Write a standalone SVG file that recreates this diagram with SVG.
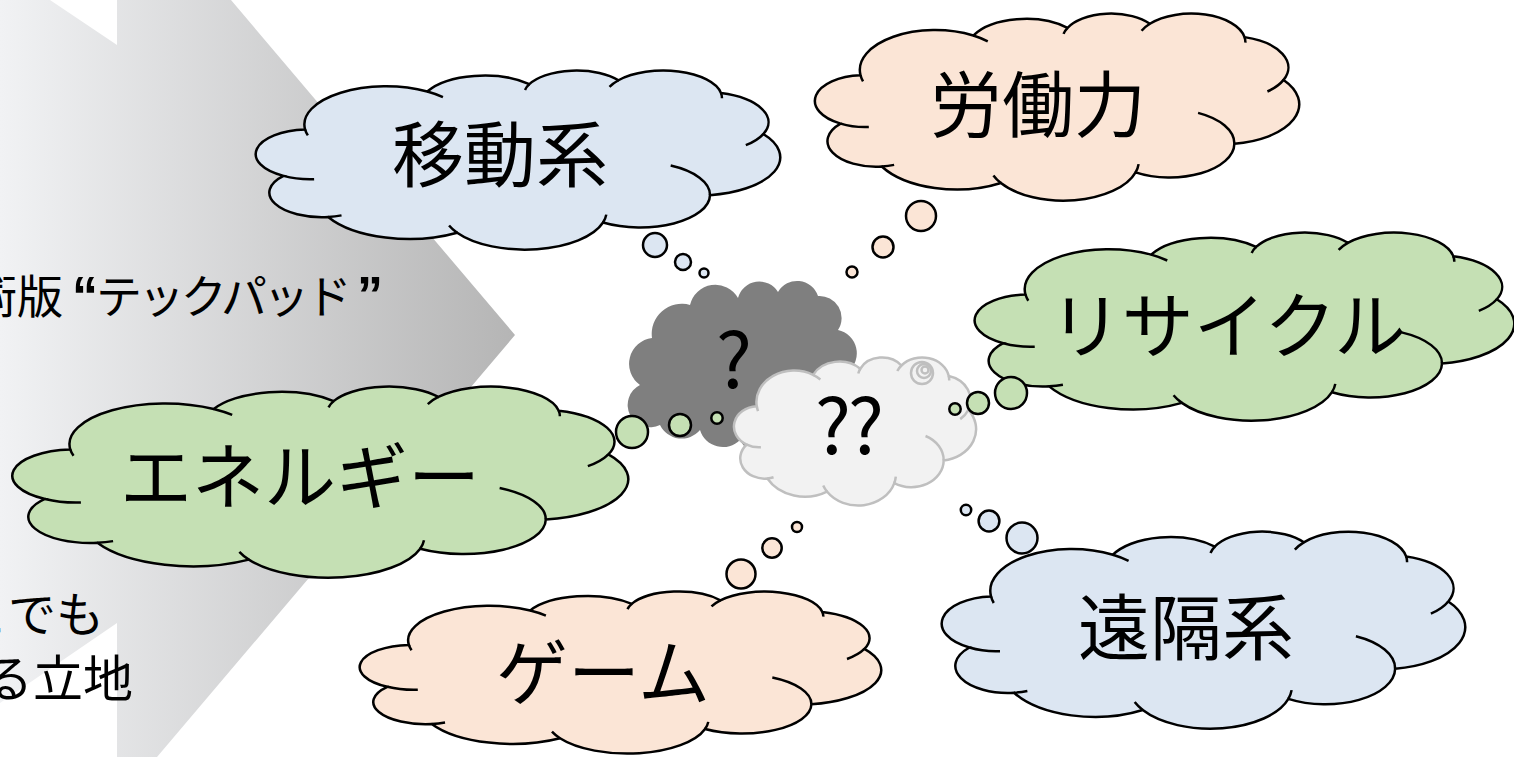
<svg xmlns="http://www.w3.org/2000/svg" xmlns:xlink="http://www.w3.org/1999/xlink" width="1514" height="757" viewBox="0 0 1514 757">
<defs>
<style>
.lbl{font-family:"Noto Sans CJK JP","Noto Sans CJK SC",sans-serif;font-size:72px;text-anchor:middle;fill:#000}
.side{font-family:"Noto Sans CJK JP","Noto Sans CJK SC",sans-serif;fill:#000}
.qt{font-family:"Liberation Sans",sans-serif;font-size:52px;font-weight:bold}
.q{font-family:"Noto Sans CJK JP",sans-serif;font-size:76px;text-anchor:middle;fill:#000}
.blue{fill:#dce6f2;stroke:#000;stroke-width:2.5}
.peach{fill:#fbe5d6;stroke:#000;stroke-width:2.5}
.green{fill:#c5e0b4;stroke:#000;stroke-width:2.5}
.light{fill:#f2f2f2;stroke:#bfbfbf;stroke-width:2.5}
</style>
<linearGradient id="chev" gradientUnits="userSpaceOnUse" x1="0" y1="0" x2="515" y2="0">
<stop offset="0" stop-color="#f1f2f4"/>
<stop offset="1" stop-color="#b5b5b5"/>
</linearGradient>
<g id="cloud">
<path vector-effect="non-scaling-stroke" d="M90.3 332.6 A156.3 212.7 0 0 1 324.2 120.4 A123.4 168.2 0 0 1 519.8 79.4 A101 137.6 0 0 1 690.6 57.4 A112.4 152.7 0 0 1 887 129 A123.4 168.4 0 0 1 968 357.8 A156.8 213.4 0 0 1 865.9 699.1 A133.9 182.1 0 0 1 661 852.1 A156.3 213.3 0 0 1 381.5 908.9 A178.7 244.1 0 0 1 134.4 821 A100.9 137 0 0 1 48.9 591.4 A100.6 137.6 0 0 1 90.3 332.6 Z"/>
<path vector-effect="non-scaling-stroke" fill="none" d="M107.5 609.8 A100.6 137.6 0 0 1 48.9 591.4 M160 812.2 A100.9 137 0 0 1 134.4 821 M381.5 908.9 A156.3 213.3 0 0 1 366 868.5 M667.2 807.9 A156.3 213.3 0 0 1 661 852.1 M790.6 533.9 A133.9 182.1 0 0 1 865.9 699.1 M968 357.8 A123.4 168.4 0 0 1 934.5 419.8 M887 129 A112.4 152.7 0 0 1 888.8 158.3 M673.4 94.7 A112.4 152.7 0 0 1 690.6 57.4 M511.5 111.6 A101 137.6 0 0 1 519.8 79.4 M324.2 120.4 A156.3 212.7 0 0 1 354.3 151.6 M95.5 365.5 A156.3 212.7 0 0 1 90.3 332.6"/>
</g>
</defs>

<g id="background-arrow">
<path fill="url(#chev)" d="M0 0 L50 0 L117 45 L117 0 L231 0 L515 335 L157 757 L117 757 L117 623 L0 703 Z"/>
</g>

<g id="side-text">
<text class="side" y="313" font-size="46"><tspan x="-29">術版</tspan><tspan class="qt" x="72">“</tspan><tspan x="96" letter-spacing="-3.6">テックパッド</tspan><tspan class="qt" x="357">”</tspan></text>
<text class="side" x="-40" y="632" font-size="48">こでも</text>
<text class="side" x="-17" y="697" font-size="50">る立地</text>
</g>

<g id="node-q1">
<path fill="#7f7f7f" d="M640 385 A26 26 0 0 1 652 338 A30 30 0 0 1 690 305 A26 26 0 0 1 738 298 A22 22 0 0 1 778 292 A22 22 0 0 1 818 296 A22 22 0 0 1 838 330 A24 24 0 0 1 848 372 A28 28 0 0 1 845 420 A32 32 0 0 1 790 440 A28 28 0 0 1 740 440 A24 24 0 0 1 700 430 A24 24 0 0 1 660 425 A16 16 0 0 1 640 385 Z"/>
<text class="q" x="734" y="388">?</text>
</g>

<g id="node-q2">
<use xlink:href="#cloud" href="#cloud" class="light" transform="translate(735 357) scale(0.241 0.148)"/>
<circle class="light" cx="922" cy="373" r="11"/>
<circle class="light" cx="924" cy="371" r="7"/>
<circle class="light" cx="925" cy="370" r="3.5"/>
<text class="q" x="848" y="454" letter-spacing="-3">??</text>
</g>

<g id="node-idou">
<use xlink:href="#cloud" href="#cloud" class="blue" transform="translate(258 70) scale(0.522 0.179)"/>
<circle class="blue" cx="655" cy="245" r="12"/>
<circle class="blue" cx="683" cy="262" r="8"/>
<circle class="blue" cx="704" cy="273" r="4.5"/>
<text class="lbl" x="500" y="181">移動系</text>
</g>

<g id="node-roudou">
<use xlink:href="#cloud" href="#cloud" class="peach" transform="translate(817 13) scale(0.482 0.187)"/>
<circle class="peach" cx="921" cy="216" r="15"/>
<circle class="peach" cx="883" cy="247" r="10.5"/>
<circle class="peach" cx="852" cy="272" r="5.5"/>
<text class="lbl" x="1038" y="131">労働力</text>
</g>

<g id="node-recycle">
<use xlink:href="#cloud" href="#cloud" class="green" transform="translate(977 232) scale(0.537 0.188)"/>
<circle class="green" cx="1011" cy="393" r="16"/>
<circle class="green" cx="978" cy="403" r="11"/>
<circle class="green" cx="955" cy="409" r="5.7"/>
<text class="lbl" x="1228" y="352">リサイクル</text>
</g>

<g id="node-energy">
<use xlink:href="#cloud" href="#cloud" class="green" transform="translate(15 386) scale(0.613 0.191)"/>
<circle class="green" cx="632" cy="432" r="16"/>
<circle class="green" cx="680" cy="425" r="11"/>
<circle class="green" cx="717" cy="418" r="5.7"/>
<text class="lbl" x="300" y="503">エネルギー</text>
</g>

<g id="node-game">
<use xlink:href="#cloud" href="#cloud" class="peach" transform="translate(362 591) scale(0.519 0.162)"/>
<circle class="peach" cx="741" cy="574" r="14.5"/>
<circle class="peach" cx="772" cy="548" r="9.7"/>
<circle class="peach" cx="797" cy="527" r="5"/>
<text class="lbl" x="603" y="699">ゲーム</text>
</g>

<g id="node-enkaku">
<use xlink:href="#cloud" href="#cloud" class="blue" transform="translate(944 531) scale(0.521 0.197)"/>
<circle class="blue" cx="1022" cy="538" r="15.5"/>
<circle class="blue" cx="989" cy="521" r="10.4"/>
<circle class="blue" cx="966" cy="510" r="5.2"/>
<text class="lbl" x="1186" y="654">遠隔系</text>
</g>

<g id="connectors"/>
</svg>
